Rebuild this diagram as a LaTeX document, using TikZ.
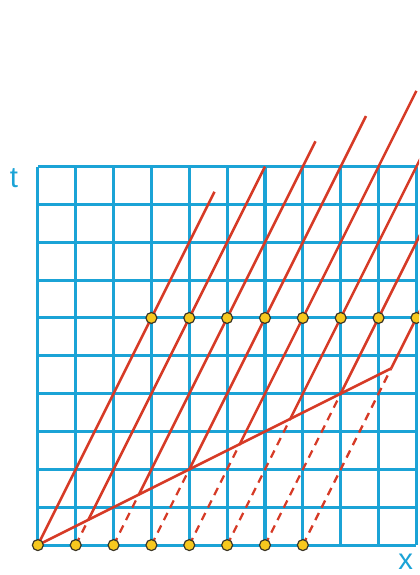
\documentclass[tikz,border=0pt]{standalone}
\usepackage{fontspec}
\setmainfont{Liberation Sans}
\definecolor{gridblue}{HTML}{1BA3D6}
\definecolor{wred}{HTML}{D63A26}
\definecolor{dotyellow}{HTML}{F7C81E}
\definecolor{dotedge}{HTML}{3A3526}
\begin{document}
\begin{tikzpicture}[x=1cm,y=1cm,
  gridline/.style={draw=gridblue,line width=2.3pt},
  worldline/.style={draw=wred,line width=1.9pt},
  ghostline/.style={draw=wred,line width=1.7pt,dash pattern=on 6pt off 4.5pt},
  event/.style={circle,fill=dotyellow,draw=dotedge,line width=0.9pt,inner sep=0pt,minimum size=0.29cm},
  axislabel/.style={text=gridblue,font=\fontsize{22}{24}\selectfont,inner sep=0pt}]
\useasboundingbox (-1.0,-0.79) rectangle (10.07,14.40);
\begin{scope}
\clip (-1.0,-0.79) rectangle (10.07,14.40);
% grid
\foreach \i in {0,...,10} {
  \draw[gridline] (\i,0) -- (\i,10);
  \draw[gridline] (0,\i) -- (10,\i);
}
% coordinates
\foreach \k in {0,...,7} {
  \coordinate (b\k) at (\k,0);
  \coordinate (m\k) at ({4*\k/3},{2*\k/3});
  \coordinate (e\k) at ({4*\k/3+14/3},{2*\k/3+28/3});
}
% shallow line
\draw[worldline] (m0) -- (m7);
% world lines
\foreach \k in {1,...,7} {
  \draw[ghostline] (b\k) -- (m\k);
}
\foreach \k in {0,...,7} {
  \draw[worldline] (m\k) -- (e\k);
}
% events
\foreach \k in {0,...,7} {
  \node[event] (d\k) at (b\k) {};
  \node[event] (u\k) at ({\k+3},6) {};
}
\end{scope}
% labels
\node[axislabel] (tlab) at (-0.63,9.70) {t};
\node[axislabel] (xlab) at (9.72,-0.44) {x};
\end{tikzpicture}
\end{document}
